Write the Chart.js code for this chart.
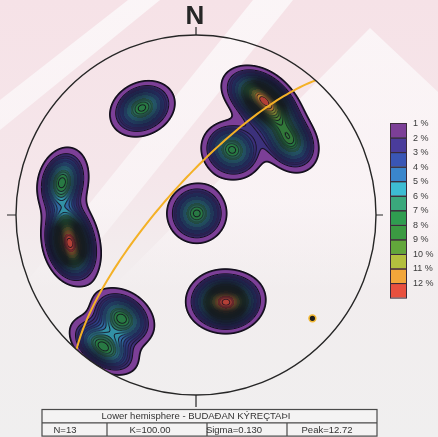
<!DOCTYPE html>
<html>
<head>
<meta charset="utf-8">
<script src="https://cdn.jsdelivr.net/npm/chart.js@4.4.1/dist/chart.umd.min.js"></script>
<style>
  html, body { margin: 0; padding: 0; background: #f1efef; }
  canvas { display: block; }
</style>
</head>
<body>
<canvas id="net" width="438" height="437" style="width:438px;height:437px"></canvas>
<script>
// Poles to bedding, lower hemisphere (trend / plunge, degrees)
const poleTrend  = [333.2, 26.6, 29.0, 26.0, 35.3, 51.8, 283.8, 261.6, 253.4, 165.5, 156.9, 215.7, 215.2];
const polePlunge = [ 33.8, 89.2, 56.0, 25.0, 28.7, 33.9,  24.3,  28.9,  28.9,  49.6,  45.3,  30.2,  11.2];

// Beta axis: pole of the best-fit great circle
const betaTrend  = [131.6];
const betaPlunge = [14.6];

// Contour levels of the density key
const levelLabels = ['1 %', '2 %', '3 %', '4 %', '5 %', '6 %', '7 %', '8 %', '9 %', '10 %', '11 %', '12 %'];
const levelColors = ['#7c3f97', '#4a3c9b', '#3a56b5', '#3a86cc', '#3dbcd3', '#3aa87c',
                     '#2f9d50', '#3b9a42', '#62a63b', '#b4bf3e', '#f2a63a', '#e8503f'];

// Statistics block
const tableTitle = 'Lower hemisphere - BUDAÐAN KÝREÇTAÞI';
const tableStats = ['N=' + poleTrend.length, 'K=100.00', 'Sigma=0.130', 'Peak=12.72'];

// ---- spherical helpers (x = east, y = north, z = up) ----
const DEG = Math.PI / 180;
function toVec(trend, plunge) {
  const t = trend * DEG, p = plunge * DEG;
  return [Math.cos(p) * Math.sin(t), Math.cos(p) * Math.cos(t), -Math.sin(p)];
}
// Schmidt (equal-area) lower-hemisphere projection onto the unit circle
function project(v) {
  let [x, y, z] = v;
  if (z > 0) { x = -x; y = -y; z = -z; }
  const h = Math.hypot(x, y);
  if (h < 1e-12) return { x: 0, y: 0 };
  const r = Math.sqrt(Math.max(0, 1 + z));
  return { x: r * x / h, y: r * y / h };
}
function unproject(X, Y) {
  const r2 = X * X + Y * Y;
  const f = Math.sqrt(Math.max(0, 2 - r2));
  return [X * f, Y * f, r2 - 1];
}

// ---- density grid (Fisher kernel, % per 1% area) ----
const KERNEL_K = 74;
const GRID = 360;
const STEP = 2 / GRID;
const poles = poleTrend.map((t, i) => toVec(t, polePlunge[i]));
const AMP = 100 / poles.length;

const dens = new Float32Array(GRID * GRID);
for (let j = 0; j < GRID; j++) {
  const Y = 1 - (j + 0.5) * STEP;
  for (let i = 0; i < GRID; i++) {
    const X = -1 + (i + 0.5) * STEP;
    if (X * X + Y * Y > 1.15) continue;
    const v = unproject(X, Y);
    let s = 0;
    for (const p of poles) {
      const c = v[0] * p[0] + v[1] * p[1] + v[2] * p[2];
      s += Math.exp(KERNEL_K * (c - 1));
    }
    dens[j * GRID + i] = AMP * s;
  }
}

function hexRgb(h) {
  return [parseInt(h.slice(1, 3), 16), parseInt(h.slice(3, 5), 16), parseInt(h.slice(5, 7), 16)];
}
const fillRgb = levelColors.map(hexRgb);
const INK = [18, 14, 28];
const INNER_STEP = 0.5;
const clamp01 = v => Math.min(1, Math.max(0, v));

const cellPts = [];
const cellColors = [];
for (let j = 1; j < GRID - 1; j++) {
  const Y = 1 - (j + 0.5) * STEP;
  for (let i = 1; i < GRID - 1; i++) {
    const X = -1 + (i + 0.5) * STEP;
    if (X * X + Y * Y > 1) continue;
    const k = j * GRID + i;
    const d = dens[k];
    if (d < 0.5) continue;
    const gx = (dens[k + 1] - dens[k - 1]) / 2;
    const gy = (dens[k + GRID] - dens[k - GRID]) / 2;
    const g = Math.max(Math.hypot(gx, gy), 1e-6);
    let cover;
    if (d < 1.5) {
      cover = clamp01(1.8 / 2 + 0.5 - Math.abs(d - 1) / g);
    } else if (d < 2) {
      cover = clamp01(1.3 / 2 + 0.5 - Math.abs(d - 2) / g);
    } else {
      // inner contour lines every INNER_STEP, averaged where they crowd below a pixel pitch
      const lw = 1.0;
      const lv = Math.round(d / INNER_STEP) * INNER_STEP;
      const distCover = clamp01(lw / 2 + 0.5 - Math.abs(d - lv) / g);
      const spacing = INNER_STEP / g;
      const avgCover = Math.min(1, lw / spacing);
      const t = clamp01((spacing - 1.8) / 1.2);
      cover = avgCover * (1 - t) + distCover * t;
    }
    if (d < 1) {
      if (cover < 0.03) continue;
      cellPts.push({ x: X, y: Y });
      cellColors.push(`rgba(${INK[0]},${INK[1]},${INK[2]},${cover.toFixed(3)})`);
      continue;
    }
    const band = Math.min(Math.floor(d), levelColors.length);
    const f = fillRgb[band - 1];
    const a = d < 2 ? cover * 0.95 : 0.25 + cover * 0.65;
    const r = Math.round(f[0] * (1 - a) + INK[0] * a);
    const gg = Math.round(f[1] * (1 - a) + INK[1] * a);
    const b = Math.round(f[2] * (1 - a) + INK[2] * a);
    cellPts.push({ x: X, y: Y });
    cellColors.push(`rgb(${r},${gg},${b})`);
  }
}

// ---- great circle normal to the beta axis ----
const beta = toVec(betaTrend[0], betaPlunge[0]);
const strikeVec = [Math.sin((betaTrend[0] - 90) * DEG), Math.cos((betaTrend[0] - 90) * DEG), 0];
let dipVec = [
  beta[1] * strikeVec[2] - beta[2] * strikeVec[1],
  beta[2] * strikeVec[0] - beta[0] * strikeVec[2],
  beta[0] * strikeVec[1] - beta[1] * strikeVec[0]
];
if (dipVec[2] > 0) dipVec = dipVec.map(c => -c);
const gcPts = [];
for (let a = 0; a <= 180; a += 2) {
  const ca = Math.cos(a * DEG), sa = Math.sin(a * DEG);
  gcPts.push(project([ca * strikeVec[0] + sa * dipVec[0], ca * strikeVec[1] + sa * dipVec[1], ca * strikeVec[2] + sa * dipVec[2]]));
}
const betaPts = [project(beta)];

// ---- plugins: paper, primitive circle, key and table ----
const FONT = "'Liberation Sans', Arial, sans-serif";

const paperPlugin = {
  id: 'paper',
  beforeDraw(chart) {
    const { ctx, width, height } = chart;
    ctx.save();
    const g = ctx.createLinearGradient(0, 0, 0, height);
    g.addColorStop(0, '#f6e2e7');
    g.addColorStop(0.4, '#f5e6ea');
    g.addColorStop(0.62, '#f2edee');
    g.addColorStop(1, '#f0efef');
    ctx.fillStyle = g;
    ctx.fillRect(0, 0, width, height);
    const w = ctx.createLinearGradient(0, 0, 0, 290);
    w.addColorStop(0, 'rgba(252,250,251,0.8)');
    w.addColorStop(0.7, 'rgba(252,250,251,0.6)');
    w.addColorStop(1, 'rgba(252,250,251,0)');
    ctx.fillStyle = w;
    const poly = pts => { ctx.beginPath(); pts.forEach((p, i) => i ? ctx.lineTo(p[0], p[1]) : ctx.moveTo(p[0], p[1])); ctx.closePath(); ctx.fill(); };
    poly([[0, 100], [128, 0], [160, 0], [0, 130]]);
    poly([[253, 0], [293, 0], [60, 290], [20, 290]]);
    poly([[370, 28], [438, 92], [438, 290], [110, 290]]);
    ctx.restore();
  }
};

const netPlugin = {
  id: 'net',
  afterDatasetsDraw(chart) {
    const { ctx } = chart;
    const xs = chart.scales.x, ys = chart.scales.y;
    const cx = xs.getPixelForValue(0), cy = ys.getPixelForValue(0);
    const R = xs.getPixelForValue(1) - cx;
    ctx.save();
    ctx.strokeStyle = '#262626';
    ctx.lineWidth = 1.4;
    ctx.beginPath();
    ctx.arc(cx, cy, R, 0, Math.PI * 2);
    ctx.stroke();
    ctx.lineWidth = 1.2;
    ctx.beginPath();
    ctx.moveTo(cx, cy - R); ctx.lineTo(cx, cy - R - 8);
    ctx.moveTo(cx, cy + R); ctx.lineTo(cx, cy + R + 12);
    ctx.moveTo(cx - R, cy); ctx.lineTo(cx - R - 9, cy);
    ctx.moveTo(cx + R, cy); ctx.lineTo(cx + R + 7, cy);
    ctx.stroke();
    ctx.fillStyle = '#262626';
    ctx.font = `bold 26px ${FONT}`;
    ctx.textAlign = 'center';
    ctx.textBaseline = 'alphabetic';
    ctx.fillText('N', cx - 1, cy - R - 11);
    ctx.restore();
  }
};

const keyPlugin = {
  id: 'key',
  afterDraw(chart) {
    const { ctx } = chart;
    ctx.save();
    // density key
    const kx = 390, ky = 123, kw = 17, kh = 14.55;
    levelColors.forEach((c, i) => {
      ctx.fillStyle = c;
      ctx.fillRect(kx, ky + i * kh, kw, kh);
    });
    ctx.strokeStyle = '#3b2b3b';
    ctx.lineWidth = 1;
    levelColors.forEach((c, i) => ctx.strokeRect(kx + 0.5, ky + i * kh + 0.5, kw - 1, kh));
    ctx.fillStyle = '#3a3a3a';
    ctx.font = `9px ${FONT}`;
    ctx.textAlign = 'left';
    ctx.textBaseline = 'middle';
    levelLabels.forEach((t, i) => ctx.fillText(t, 413, ky + i * kh + 0.5));

    // statistics table
    const tx = 42, ty = 409.5, tw = 335, rh = 13.3;
    ctx.fillStyle = '#f4f3f3';
    ctx.fillRect(tx, ty, tw, rh * 2);
    ctx.strokeStyle = '#4a4a4a';
    ctx.lineWidth = 1.2;
    ctx.strokeRect(tx, ty, tw, rh * 2);
    ctx.beginPath();
    ctx.moveTo(tx, ty + rh); ctx.lineTo(tx + tw, ty + rh);
    [107, 207, 287].forEach(x => { ctx.moveTo(x, ty + rh); ctx.lineTo(x, ty + rh * 2); });
    ctx.stroke();
    ctx.fillStyle = '#333';
    ctx.font = `9.5px ${FONT}`;
    ctx.textAlign = 'center';
    ctx.fillText(tableTitle, 196, ty + rh / 2 + 0.5);
    [65, 150, 234, 327].forEach((x, i) => ctx.fillText(tableStats[i], x, ty + rh * 1.5 + 0.5));
    ctx.restore();
  }
};

new Chart(document.getElementById('net'), {
  type: 'scatter',
  data: {
    datasets: [
      {
        label: 'density',
        data: cellPts,
        pointBackgroundColor: cellColors,
        pointStyle: 'rect',
        pointRadius: 0.75,
        pointHoverRadius: 0.75,
        pointBorderWidth: 0,
        order: 3
      },
      {
        type: 'line',
        label: 'great circle',
        data: gcPts,
        borderColor: '#f4b126',
        borderWidth: 2,
        pointRadius: 0,
        fill: false,
        showLine: true,
        tension: 0,
        order: 1
      },
      {
        label: 'beta axis',
        data: betaPts,
        pointRadius: 3.4,
        pointBackgroundColor: '#1c1c1c',
        pointBorderColor: '#f3b935',
        pointBorderWidth: 1.6,
        order: 0
      }
    ]
  },
  options: {
    responsive: false,
    animation: false,
    events: [],
    devicePixelRatio: 1,
    layout: { padding: 0, autoPadding: false },
    scales: {
      x: { type: 'linear', min: -196 / 180, max: 242 / 180, display: false },
      y: { type: 'linear', min: -222 / 180, max: 215 / 180, display: false }
    },
    plugins: { legend: { display: false }, tooltip: { enabled: false } }
  },
  plugins: [paperPlugin, netPlugin, keyPlugin]
});
</script>
</body>
</html>
